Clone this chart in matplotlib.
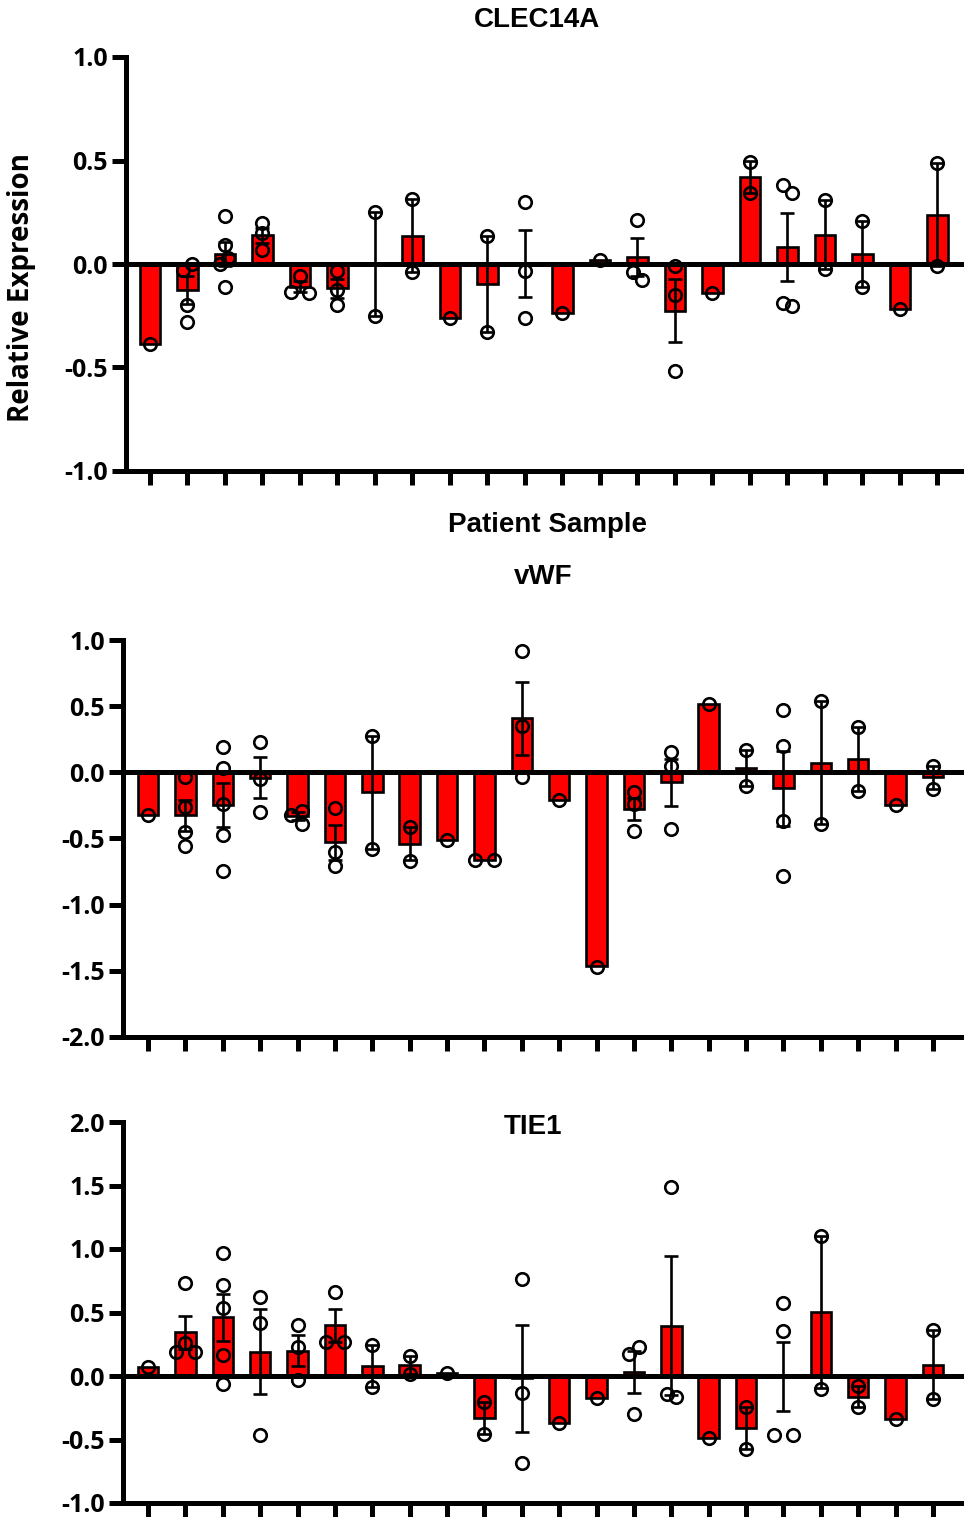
import numpy as np
import matplotlib
matplotlib.use("Agg")
import matplotlib.pyplot as plt

# Relative expression per patient sample (22 samples), replicate points, bar = mean, error = SEM
n_samples = 22

clec_points = [
    [-0.385], [0.0, -0.03, -0.197, -0.28], [0.23, 0.09, 0.03, 0.0, -0.11], [0.198, 0.15, 0.07],
    [-0.058, -0.14, -0.133], [-0.034, -0.125, -0.196], [0.25, -0.252], [0.315, -0.04],
    [-0.26], [0.134, -0.33], [0.30, -0.034, -0.26], [-0.236],
    [0.02], [0.214, -0.077, -0.037], [-0.01, -0.149, -0.516], [-0.138],
    [0.495, 0.342], [0.342, 0.382, -0.204, -0.19], [0.31, -0.026], [0.21, -0.112],
    [-0.218], [0.486, -0.01],
]
clec_mean = [-0.385, -0.127, 0.048, 0.139, -0.11, -0.118, 0.0, 0.137, -0.26, -0.097, 0.003,
             -0.236, 0.02, 0.033, -0.225, -0.138, 0.419, 0.082, 0.142, 0.049, -0.218, 0.238]
clec_sem = [0, 0.067, 0.056, 0.037, 0.026, 0.047, 0.251, 0.178, 0, 0.232, 0.163,
            0, 0, 0.091, 0.151, 0, 0.077, 0.162, 0.168, 0.161, 0, 0.248]

vwf_points = [
    [-0.322], [-0.033, -0.264, -0.453, -0.554], [0.189, 0.033, -0.239, -0.471, -0.748],
    [0.232, -0.05, -0.302], [-0.29, -0.32, -0.39], [-0.27, -0.605, -0.705], [0.277, -0.579],
    [-0.416, -0.667], [-0.515], [-0.662, -0.662], [0.914, 0.353, -0.038], [-0.21],
    [-1.47], [-0.15, -0.24, -0.44], [0.151, 0.05, -0.428], [0.52], [0.169, -0.1],
    [0.474, 0.196, -0.37, -0.786], [0.537, -0.39], [0.34, -0.144], [-0.246], [0.05, -0.126],
]
vwf_mean = [-0.322, -0.326, -0.247, -0.04, -0.333, -0.527, -0.151, -0.54, -0.515, -0.662, 0.41,
            -0.21, -1.46, -0.277, -0.076, 0.52, 0.035, -0.12, 0.074, 0.098, -0.246, -0.038]
vwf_sem = [0, 0.115, 0.169, 0.154, 0.030, 0.132, 0.428, 0.126, 0, 0, 0.276,
           0, 0, 0.086, 0.179, 0, 0.135, 0.283, 0.464, 0.242, 0, 0.088]

tie_points = [
    [0.07], [0.734, 0.26, 0.19, 0.19], [0.966, 0.716, 0.532, 0.163, -0.06], [0.624, 0.421, -0.468],
    [0.4, 0.229, -0.03], [0.658, 0.268, 0.268], [0.242, -0.087], [0.155, 0.018], [0.025],
    [-0.205, -0.455], [0.763, -0.132, -0.687], [-0.37], [-0.172], [0.227, 0.171, -0.3],
    [1.492, -0.166, -0.139], [-0.49], [-0.245, -0.574], [0.571, 0.355, -0.468, -0.468],
    [1.103, -0.1], [-0.082, -0.245], [-0.34], [0.36, -0.184],
]
tie_mean = [0.07, 0.344, 0.463, 0.192, 0.2, 0.398, 0.078, 0.087, 0.025, -0.33, -0.019,
            -0.37, -0.172, 0.033, 0.396, -0.49, -0.41, -0.003, 0.502, -0.164, -0.34, 0.088]
tie_sem = [0, 0.131, 0.185, 0.335, 0.125, 0.13, 0.165, 0.069, 0, 0.125, 0.422,
           0, 0, 0.167, 0.548, 0, 0.165, 0.272, 0.60, 0.082, 0, 0.272]

W, H = 964, 1517
fig = plt.figure(figsize=(W / 100, H / 100), dpi=100)

tick_font = {"family": "Open Sans", "weight": "bold", "size": 18}
title_font = {"family": "Liberation Sans", "weight": "bold", "size": 20}
LW = 3.6
MS = 9
D_PX = 13.0


def swarm(vals, px_x, px_y):
    # nudge overlapping points sideways, then centre each nudged cluster
    placed = []
    for v in vals:
        yp = v * px_y
        xp = 0.0
        for k in [0, -0.7, 0.7, -1.4, 1.4]:
            xp = k * D_PX
            if all((xp - a) ** 2 + (yp - b) ** 2 >= (0.72 * D_PX) ** 2 for a, b in placed):
                break
        placed.append((xp, yp))
    xs = np.array([p[0] for p in placed])
    ys = np.array([p[1] for p in placed])
    out = xs.copy()
    for i in range(len(xs)):
        near = np.abs(ys - ys[i]) < D_PX
        if near.sum() > 1:
            out[i] = xs[i] - xs[near].mean()
    return out / px_x


def panel(rect, means, sems, points, ylim, yticks, xlim):
    ax = fig.add_axes(rect)
    x = np.arange(n_samples)
    ax.bar(x, means, width=0.55, color="#ff0000", edgecolor="black", linewidth=1.9, zorder=2)
    ax.axhline(0, color="black", lw=LW, zorder=2.5)
    sems = np.array(sems)
    m = sems > 0
    ax.errorbar(x[m], np.array(means)[m], yerr=sems[m], fmt="none", ecolor="black",
                elinewidth=1.9, capsize=5, capthick=1.9, zorder=3)

    px_x = rect[2] * W / (xlim[1] - xlim[0])
    px_y = rect[3] * H / (ylim[1] - ylim[0])
    for i, vals in enumerate(points):
        dx = swarm(vals, px_x, px_y)
        ax.plot(i + dx, vals, "o", ms=MS, mfc="none", mec="black", mew=1.9,
                zorder=4, clip_on=False)

    ax.set_xlim(*xlim)
    ax.set_ylim(*ylim)
    ax.set_yticks(yticks)
    ax.set_yticklabels([f"{t:.1f}" for t in yticks], fontdict=tick_font)
    ax.set_xticks(x)
    ax.set_xticklabels([])
    for s in ["top", "right"]:
        ax.spines[s].set_visible(False)
    for s in ["left", "bottom"]:
        ax.spines[s].set_linewidth(LW)
    ax.tick_params(axis="both", direction="out", length=10, width=LW, pad=3)
    return ax


ax1 = panel([126 / W, 1 - 471 / H, 1 - 126 / W, (471 - 57) / H],
            clec_mean, clec_sem, clec_points, (-1.0, 1.0), [-1.0, -0.5, 0.0, 0.5, 1.0],
            (-0.64, 21.71))
ax2 = panel([123 / W, 1 - 1037 / H, 1 - 123 / W, (1037 - 640) / H],
            vwf_mean, vwf_sem, vwf_points, (-2.0, 1.0),
            [-2.0, -1.5, -1.0, -0.5, 0.0, 0.5, 1.0], (-0.67, 21.83))
ax3 = panel([123 / W, 1 - 1503 / H, 1 - 123 / W, (1503 - 1122) / H],
            tie_mean, tie_sem, tie_points, (-1.0, 2.0),
            [-1.0, -0.5, 0.0, 0.5, 1.0, 1.5, 2.0], (-0.67, 21.83))

fig.text(537 / W, 1 - 20 / H, "CLEC14A", ha="center", va="center", **title_font)
fig.text(547 / W, 1 - 525 / H, "Patient Sample", ha="center", va="center", **title_font)
fig.text(543 / W, 1 - 577 / H, "vWF", ha="center", va="center", **title_font)
fig.text(533 / W, 1 - 1127 / H, "TIE1", ha="center", va="center", **title_font)
fig.text(22 / W, 1 - 288 / H, "Relative Expression", rotation=90, ha="center", va="center",
         family="Open Sans", weight="bold", size=20)

fig.savefig("out.png", dpi=100)
